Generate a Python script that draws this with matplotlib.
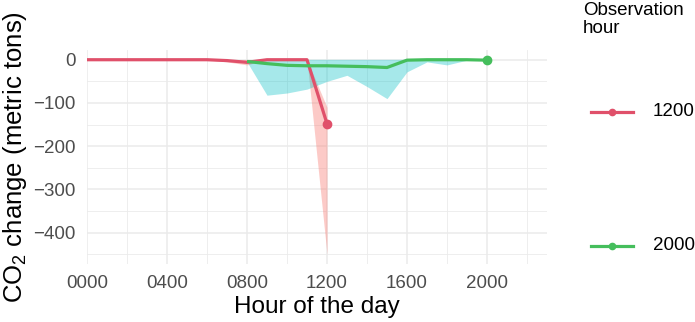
import matplotlib
matplotlib.use("Agg")
import matplotlib.pyplot as plt
from matplotlib.lines import Line2D

plt.rcParams['font.family'] = ['Liberation Sans', 'DejaVu Sans']
plt.rcParams['mathtext.fontset'] = 'custom'
plt.rcParams['mathtext.rm'] = 'Liberation Sans'

# observation at 1200
hours_a = [0, 100, 200, 300, 400, 500, 600, 700, 800, 900, 1000, 1100, 1200]
mid_a = [0, 0, 0, 0, 0, 0, 0, -2, -6, 0, 0, 0, -148]
low_a = [0, 0, 0, 0, 0, 0, 0, -5, -12, 0, 0, 0, -450]
high_a = [0, 0, 0, 0, 0, 0, 0, 0, 0, 0, 0, 0, -110]

# observation at 2000
hours_b = [800, 900, 1000, 1100, 1200, 1300, 1400, 1500, 1600, 1700, 1800, 1900, 2000]
mid_b = [-4, -9, -13, -14, -14, -15, -16, -18, -1, 0, 0, 0, -1]
low_b = [-5, -82, -77, -68, -50, -36, -62, -90, -28, -5, -12, -1, 0]
high_b = [0, 1, 1, 1, 1, 1, 1, 1, 1, 1, 1, 0, 0]

series_labels = ['1200', '2000']
line_colors = ['#E0506A', '#45BE5C']
fill_colors = ['#F8766D', '#00BFC4']

x_ticks = [0, 400, 800, 1200, 1600, 2000]
x_ticklabels = ['0000', '0400', '0800', '1200', '1600', '2000']
y_ticks = [0, -100, -200, -300, -400]

fig = plt.figure(figsize=(6.95, 3.22), dpi=100)
ax = fig.add_axes([87 / 695, 1 - 264 / 322, 460 / 695, 214 / 322])

ax.fill_between(hours_a, low_a, high_a, color=fill_colors[0], alpha=0.38, lw=0)
ax.plot(hours_a, mid_a, color=line_colors[0], lw=2.3, solid_capstyle='butt')
ax.plot(hours_a[-1:], mid_a[-1:], 'o', color=line_colors[0], ms=6)
ax.fill_between(hours_b, low_b, high_b, color=fill_colors[1], alpha=0.35, lw=0)
ax.plot(hours_b, mid_b, color=line_colors[1], lw=2.3, solid_capstyle='butt')
ax.plot(hours_b[-1:], mid_b[-1:], 'o', color=line_colors[1], ms=6)

ax.set_xlim(0, 2300)
ax.set_ylim(-472.5, 22.5)
ax.set_xticks(x_ticks)
ax.set_xticklabels(x_ticklabels)
ax.set_xticks([200, 600, 1000, 1400, 1800, 2200], minor=True)
ax.set_yticks(y_ticks)
ax.set_yticklabels([str(v).replace('-', '\u2212') for v in y_ticks])
ax.set_yticks([-50, -150, -250, -350, -450], minor=True)
ax.grid(True, which='major', color='#EBEBEB', lw=1.1)
ax.grid(True, which='minor', color='#EBEBEB', lw=0.6)
ax.set_axisbelow(True)
for s in ax.spines.values():
    s.set_visible(False)
ax.tick_params(which='both', length=0, labelsize=13.5, labelcolor='#4D4D4D')
ax.tick_params(axis='x', pad=8)
ax.tick_params(axis='y', pad=8)

ax.set_xlabel('Hour of the day', fontsize=17.5, labelpad=3)
ax.set_ylabel(r'CO$_\mathrm{2}$ change (metric tons)', fontsize=18.5, labelpad=3)

# legend
fig.text(583 / 695, 1 - 2 / 322, 'Observation\nhour', fontsize=13.5,
         va='top', ha='left', linespacing=1.05)
key_y = [112, 246]
for lab, col, ky in zip(series_labels, line_colors, key_y):
    yf = 1 - ky / 322
    fig.add_artist(Line2D([591 / 695, 633 / 695], [yf, yf], color=col, lw=2.3,
                          transform=fig.transFigure))
    fig.add_artist(Line2D([612 / 695], [yf], marker='o', color=col, ms=4.5,
                          transform=fig.transFigure))
    fig.text(653 / 695, yf, lab, fontsize=13.5, va='center', ha='left')

fig.savefig('out.png', dpi=100)
